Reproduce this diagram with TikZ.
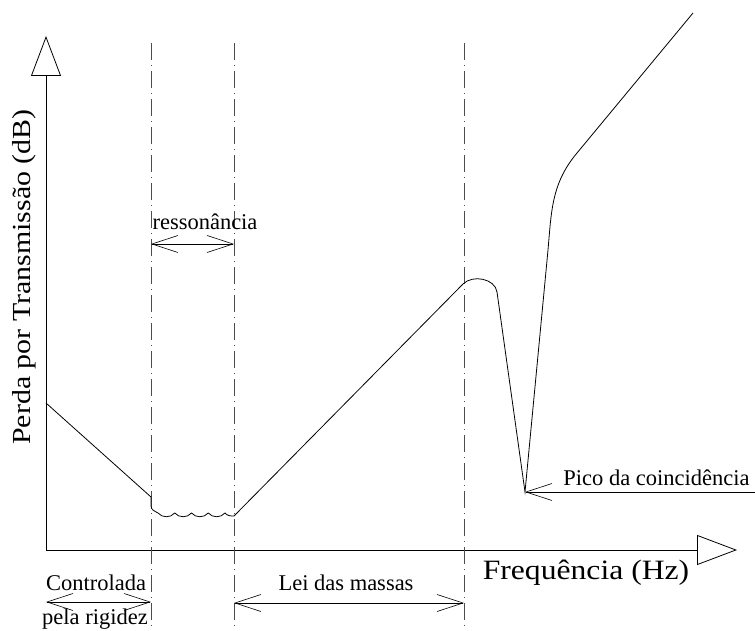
\documentclass[tikz,border=0pt]{standalone}
\usepackage{fontspec}
\setmainfont{Liberation Serif}
\usetikzlibrary{arrows.meta}
\begin{document}
\begin{tikzpicture}[x=1pt,y=1pt,line width=0.8pt,
  >={Straight Barb[length=26pt,width=17pt,line width=0.6pt]},
  eixo/.style={-{Triangle[open,length=40pt,width=30pt,line width=0.8pt]}},
  divisa/.style={black!70,dash pattern=on 17pt off 5pt on 1pt off 5pt,dash phase=23pt},
  rotulo/.style={font=\fontsize{22.5}{24}\selectfont,inner sep=0pt,anchor=base}]
\useasboundingbox (0,0) rectangle (755,630);
\coordinate (O) at (46,80);
\coordinate (ytip) at (46,594);\coordinate (xtip) at (737,80);
\draw[eixo] (O)--(ytip);
\draw[eixo] (O)--(xtip);
\foreach \x/\n in {151/a,234/b,464/c}
  \draw[divisa] (\x,592)--(\x,0)coordinate(\n);
\draw (46,227)--(151,133)--(151,124) to[out=-90,in=150] (158,117)
  \foreach \i in {1,...,4}{ to[out=-50,in=-130] ++(16.75,0) }
  to[out=-50,in=180] (234,114)--(463,346) to[out=45,in=98] (497,338)
  --(525,138)coordinate(vale)--(548,380) to[out=85,in=230] (577,477)--(693,617);
\node[rotulo] (ress) at (205,400){ressonância};
\coordinate (ressA) at (151,386);\coordinate (ressB) at (234,386);
\draw[<->] (ressA)--(ressB);
\node[rotulo] (contr) at (96,40){Controlada};
\node[rotulo] (rig) at (95,5.2){pela rigidez};
\coordinate (contrA) at (46,28);\coordinate (contrB) at (151,28);
\draw[<->] (contrA)--(contrB);
\node[rotulo] (lei) at (346,40){Lei das massas};
\coordinate (leiA) at (234,27);\coordinate (leiB) at (464,27);
\draw[<->] (leiA)--(leiB);
\node[rotulo,anchor=base west] (pico) at (563,145){Pico da coincidência};
\coordinate (picoR) at (755,138);
\draw[->] (picoR)--(vale);
\node[anchor=base,inner sep=0pt,font=\fontsize{28}{30}\selectfont] (freq) at (586,51){\scalebox{1.13}[1]{Frequência (Hz)}};
\node[rotate=90,anchor=base,inner sep=0pt,font=\fontsize{26}{28}\selectfont] (perda) at (30,353){\scalebox{1.15}[1]{Perda por Transmissão (dB)}};
\end{tikzpicture}
\end{document}
